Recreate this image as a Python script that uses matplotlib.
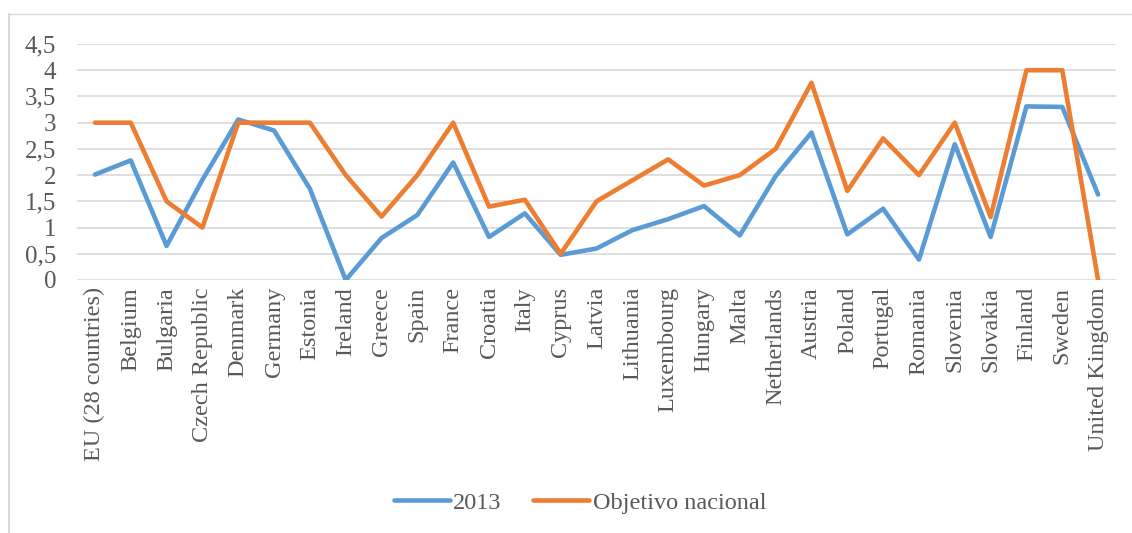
import matplotlib
matplotlib.use("Agg")
import matplotlib.pyplot as plt
from matplotlib.lines import Line2D

countries = ["EU (28 countries)", "Belgium", "Bulgaria", "Czech Republic", "Denmark",
             "Germany", "Estonia", "Ireland", "Greece", "Spain", "France", "Croatia",
             "Italy", "Cyprus", "Latvia", "Lithuania", "Luxembourg", "Hungary", "Malta",
             "Netherlands", "Austria", "Poland", "Portugal", "Romania", "Slovenia",
             "Slovakia", "Finland", "Sweden", "United Kingdom"]

values_2013 = [2.01, 2.28, 0.65, 1.91, 3.06, 2.85, 1.74, 0.0, 0.80, 1.24, 2.24, 0.82,
               1.27, 0.48, 0.60, 0.95, 1.16, 1.41, 0.85, 1.98, 2.81, 0.87, 1.36, 0.39,
               2.59, 0.82, 3.31, 3.30, 1.63]

objetivo = [3.0, 3.0, 1.5, 1.0, 3.0, 3.0, 3.0, 2.0, 1.21, 2.0, 3.0, 1.4,
            1.53, 0.5, 1.5, 1.9, 2.3, 1.8, 2.0, 2.5, 3.76, 1.7, 2.7, 2.0,
            3.0, 1.2, 4.0, 4.0, 0.0]

yticks = [0, 0.5, 1, 1.5, 2, 2.5, 3, 3.5, 4, 4.5]
ytick_labels = ["0", "0,5", "1", "1,5", "2", "2,5", "3", "3,5", "4", "4,5"]

W, H = 1132, 533
fig = plt.figure(figsize=(W / 100, H / 100), dpi=100)
plt.rcParams['font.family'] = ['Liberation Serif', 'DejaVu Serif']
txt = "#595959"

# chart border (partially visible)
fig.add_artist(Line2D([9 / W, 1.0], [1 - 14 / H, 1 - 14 / H], color="#D9D9D9", lw=1.0,
                      transform=fig.transFigure))
fig.add_artist(Line2D([9 / W, 9 / W], [0, 1 - 14 / H], color="#D9D9D9", lw=1.5,
                      transform=fig.transFigure))

left, right = 77 / W, 1116 / W
top, bottom = 1 - 44 / H, 1 - 280 / H
ax = fig.add_axes([left, bottom, right - left, top - bottom])

x = list(range(len(countries)))
ax.plot(x, values_2013, color="#5B9BD5", lw=3.3, solid_capstyle="round",
        solid_joinstyle="round", label="2013", zorder=3)
ax.plot(x, objetivo, color="#ED7D31", lw=3.3, solid_capstyle="round",
        solid_joinstyle="round", label="Objetivo nacional", zorder=4)

ax.set_xlim(-0.5, len(countries) - 0.5)
ax.set_ylim(0, 4.5)
ax.set_yticks(yticks)
ax.set_yticklabels(ytick_labels, fontsize=18, color=txt)
ax.set_xticks(x)
ax.set_xticklabels(countries, rotation=90, fontsize=17.5, color=txt)
ax.tick_params(axis="both", length=0)
ax.tick_params(axis="y", pad=15)
ax.tick_params(axis="x", pad=5)
for s in ax.spines.values():
    s.set_visible(False)
ax.grid(axis="y", color="#D9D9D9", lw=1.2)
ax.set_axisbelow(True)

leg = fig.legend(loc="center", bbox_to_anchor=(580 / W, 1 - 503 / H), ncol=2,
                 frameon=False, fontsize=17.5, handlelength=2.3, handletextpad=0.15,
                 columnspacing=1.3)
for t in leg.get_texts():
    t.set_color(txt)

fig.savefig("out.png", dpi=100, facecolor="white")
